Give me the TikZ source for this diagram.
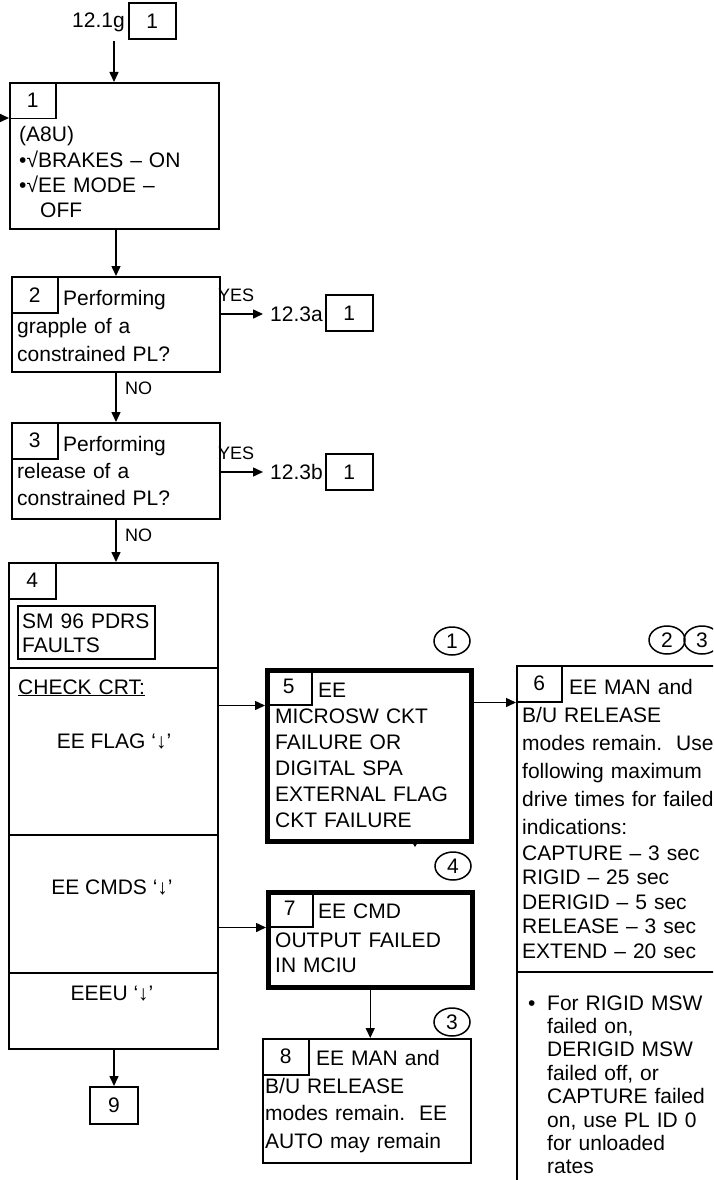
\documentclass[tikz,border=0pt]{standalone}
\usepackage{fontspec}
\setmainfont{Liberation Sans}
\usetikzlibrary{arrows.meta,shapes.geometric}

\begin{document}
\begin{tikzpicture}[x=1pt, y=-1pt, >={Triangle[length=10pt,width=9pt]},
    font=\fontsize{21}{25}\selectfont,
    frame/.style={draw, line width=2pt, inner sep=0pt, anchor=north west},
    heavy/.style={frame, line width=4.5pt},
    numbox/.style={draw, line width=1.5pt, inner sep=0pt, anchor=north west, minimum width=46pt, minimum height=36pt},
    refbox/.style={draw, line width=1.5pt, inner sep=0pt, anchor=west, minimum width=47pt, minimum height=36pt},
    body/.style={anchor=base west, inner sep=0pt, align=left, text width=300pt, font=\fontsize{21}{#1}\selectfont},
    body/.default=28,
    word/.style={anchor=base, inner sep=0pt},
    yn/.style={anchor=base west, inner sep=0pt, font=\fontsize{18}{20}\selectfont},
    tag/.style={draw, ellipse, line width=1.5pt, inner sep=0pt, minimum width=36pt, minimum height=28pt},
    link/.style={->, line width=1.5pt}]
    \clip (0,0) rectangle (713,1180);

    % 入口 12.1g
    \node[word, anchor=base west] (t0) at (72,28) {12.1g};
    \node[refbox] (r0) at (128,21) {1};
    \coordinate (s0) at (114,41);
    \coordinate (e1) at (0,118);

    % 第1步
    \node[frame, minimum width=209pt, minimum height=146pt] (b1) at (9,82) {};
    \node[numbox] (n1) at (b1.north west) {1};
    \node[body=25.3] (x1) at (19,142) {(A8U)\\•√BRAKES – ON\\•√EE MODE –\\\hspace*{21pt}OFF};
    \draw[link] (s0) -- (s0 |- b1.north);
    \draw[link] (e1) -- (e1 -| b1.west);

    % 第2步及 YES 分支
    \node[frame, minimum width=208pt, minimum height=95pt] (b2) at (11,276) {};
    \node[numbox] (n2) at (b2.north west) {2};
    \node[body] (h2) at (63,305) {Performing};
    \node[body] (x2) at (17,333) {grapple of a\\constrained PL?};
    \node[yn] (y2) at (218,301) {YES};
    \node[word, anchor=west, inner xsep=7pt, inner ysep=0pt] (t2) at (263,314) {12.3a};
    \node[refbox] (r2) at (325,313) {1};
    \draw[link] (b1.south -| b2.north) -- (b2.north);
    \draw[link] (b2.east |- t2.west) -- (t2.west);

    % 第3步
    \node[frame, minimum width=208pt, minimum height=96pt] (b3) at (11,422) {};
    \node[numbox] (n3) at (b3.north west) {3};
    \node[body] (h3) at (63,451) {Performing};
    \node[body=27] (x3) at (17,478) {release of a\\constrained PL?};
    \node[yn] (y3) at (218,459) {YES};
    \node[word, anchor=west, inner xsep=7pt, inner ysep=0pt] (t3) at (263,472) {12.3b};
    \node[refbox] (r3) at (325,472) {1};
    \node[yn] (no2) at (125,394) {NO};
    \draw[link] (b2.south) -- (b3.north);
    \draw[link] (b3.east |- t3.west) -- (t3.west);

    % 第4步 CRT 检查
    \node[frame, minimum width=209pt, minimum height=486pt] (b4) at (8,562) {};
    \node[numbox, minimum width=47pt] (n4) at (b4.north west) {4};
    \node[draw, line width=1.5pt, inner sep=0pt, anchor=north west, minimum width=137pt, minimum height=53pt] (sm) at (17,605) {};
    \node[body=24] (xsm) at (22,628) {SM 96 PDRS\\FAULTS};
    \foreach \y in {668,835,973}
        \draw[line width=2pt] (8,\y) -- (217,\y);
    \node[body] (chk) at (18,694) {\underline{CHECK CRT:}};
    \node[word] (f1) at (114,748) {EE FLAG ‘↓’};
    \node[word] (f2) at (112,894) {EE CMDS ‘↓’};
    \node[word] (f3) at (112,1000) {EEEU ‘↓’};
    \node[yn] (no3) at (125,541) {NO};
    \draw[link] (b3.south) -- (b3.south |- b4.north);

    % 第9步
    \node[frame, minimum width=48pt, minimum height=37pt] (b9) at (89,1086) {9};
    \draw[link] (b4.south -| b9.north) -- (b9.north);

    % 第5步（粗框）
    \node[heavy, minimum width=204pt, minimum height=171pt] (b5) at (265,668) {};
    \node[numbox] (n5) at (b5.north west) {5};
    \node[body] (h5) at (318,697) {EE};
    \node[body=26] (x5) at (275,723) {MICROSW CKT\\FAILURE OR\\DIGITAL SPA\\EXTERNAL FLAG\\CKT FAILURE};
    \node[tag] (c1) at (452,641) {1};
    \fill (412,842) -- (418,842) -- (415,847) -- cycle;
    \draw[link] (b4.east |- n5.south) -- (b5.west |- n5.south);

    % 第6步（右侧开口）
    \node[frame, minimum width=220pt, minimum height=540pt] (b6) at (516,665) {};
    \node[numbox, minimum width=45pt] (n6) at (b6.north west) {6};
    \node[body] (h6) at (569,694) {EE MAN and};
    \node[body=28.2] (x6) at (522,722) {B/U RELEASE\\modes remain.\ \ Use\\following maximum\\drive times for failed\\indications:};
    \node[body=24.5] (x6b) at (522,860) {CAPTURE – 3 sec\\RIGID – 25 sec\\DERIGID – 5 sec\\RELEASE – 3 sec\\EXTEND – 20 sec};
    \draw[line width=2pt] (516,972) -- (716,972);
    \node[body] (dot6) at (528,1010) {•};
    \node[body=23.4] (x6c) at (547,1010) {For RIGID MSW\\failed on,\\DERIGID MSW\\failed off, or\\CAPTURE failed\\on, use PL ID 0\\for unloaded\\rates};
    \node[tag] (c2) at (667,640) {2};
    \node[tag] (c3) at (702,640) {3};
    \draw[link] (b5.east |- n6.south) -- (b6.west |- n6.south);

    % 第7步（粗框）
    \node[heavy, minimum width=204pt, minimum height=95pt] (b7) at (266,890) {};
    \node[numbox] (n7) at (b7.north west) {7};
    \node[body] (h7) at (318,918) {EE CMD};
    \node[body=25] (x7) at (275,947) {OUTPUT FAILED\\IN MCIU};
    \node[tag] (c4) at (453,866) {4};
    \draw[link] (b4.east |- n7.south) -- (b7.west |- n7.south);

    % 第8步
    \node[frame, minimum width=208pt, minimum height=124pt] (b8) at (262,1038) {};
    \node[numbox] (n8) at (b8.north west) {8};
    \node[body] (h8) at (316,1065) {EE MAN and};
    \node[body=27.7] (x8) at (265,1093) {B/U RELEASE\\modes remain.\ \ EE\\AUTO may remain};
    \node[tag] (c5) at (452,1022) {3};
    \draw[link] (b7.south) -- (b7.south |- b8.north);
\end{tikzpicture}
\end{document}
